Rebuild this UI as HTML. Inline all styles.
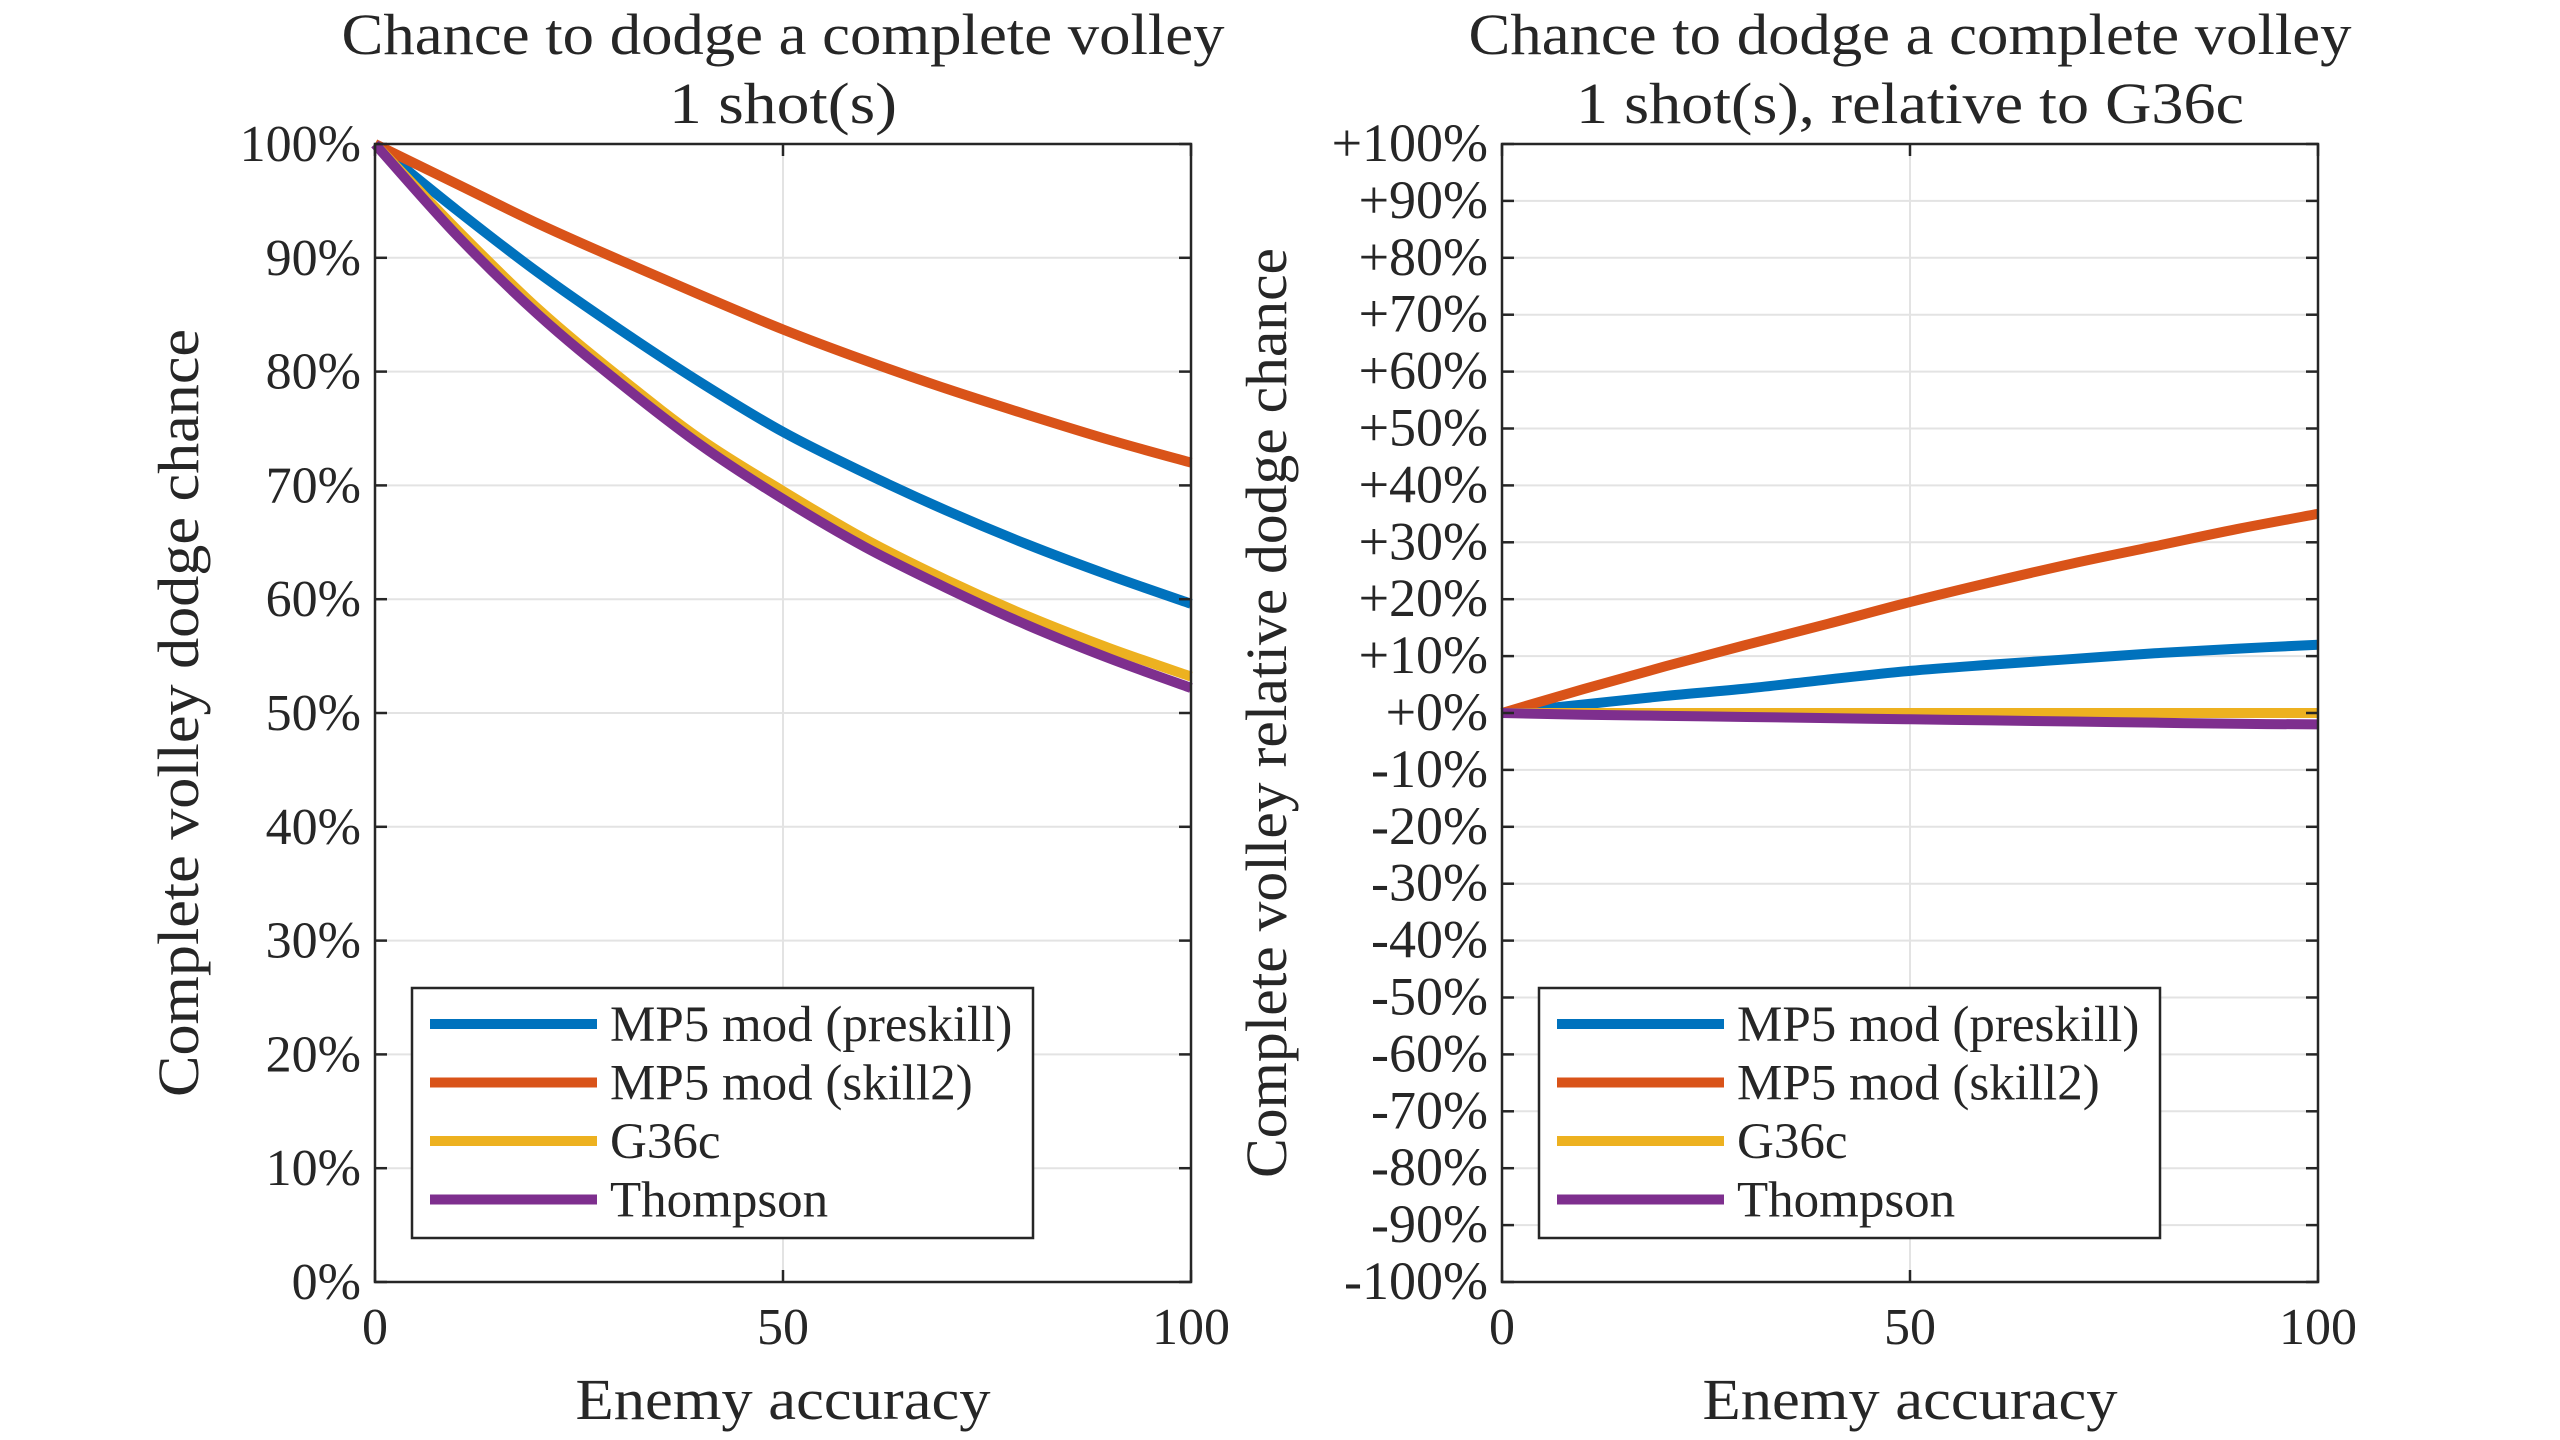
<!DOCTYPE html>
<html><head><meta charset="utf-8"><style>
html,body{margin:0;padding:0;background:#fff}
svg{display:block}
text{font-family:"Liberation Serif",serif;fill:#262626}
</style></head><body>
<svg id="c" width="2560" height="1440" viewBox="0 0 2560 1440"></svg>
<script>
const xs=[0,10,20,30,40,50,60,70,80,90,100];
const seriesNames=["MP5 mod (preskill)","MP5 mod (skill2)","G36c","Thompson"];
const colors=["#0072BD","#D95319","#EDB120","#7E2F8E"];
const absBlue=[100,94.2,88.7,83.7,79,74.7,71.1,67.8,64.8,62.1,59.6];
const absRed=[100,96.5,93,89.8,86.7,83.7,81,78.5,76.2,74,72];
const absYellow=[100,92.5,85.5,79.5,74,69.5,65.3,61.7,58.5,55.7,53.2];
const absPurple=[100,92,85,79,73.5,68.8,64.6,61,57.7,54.8,52.2];
const relBlue=[0,1.5,3,4.3,5.9,7.4,8.5,9.5,10.5,11.3,12];
const relRed=[0,4.2,8.2,12,15.7,19.5,23,26.3,29.3,32.3,35];
const relYellow=[0,0,0,0,0,0,0,0,0,0,0];
const relPurple=[0,-0.3,-0.5,-0.7,-0.9,-1.1,-1.3,-1.5,-1.7,-1.9,-2];
const xTicks=[0,50,100];
const leftYTicks=[0,10,20,30,40,50,60,70,80,90,100];
const rightYTicks=[-100,-90,-80,-70,-60,-50,-40,-30,-20,-10,0,10,20,30,40,50,60,70,80,90,100];

const svg=document.getElementById('c');
const NS='http://www.w3.org/2000/svg';
function el(tag,attrs,parent){const e=document.createElementNS(NS,tag);for(const k in attrs)e.setAttribute(k,attrs[k]);(parent||svg).appendChild(e);return e;}
function smooth(pts){
  let d='M'+pts[0][0]+','+pts[0][1];
  for(let i=0;i<pts.length-1;i++){
    const p0=pts[Math.max(0,i-1)],p1=pts[i],p2=pts[i+1],p3=pts[Math.min(pts.length-1,i+2)];
    const c1x=p1[0]+(p2[0]-p0[0])/6,c1y=p1[1]+(p2[1]-p0[1])/6;
    const c2x=p2[0]-(p3[0]-p1[0])/6,c2y=p2[1]-(p3[1]-p1[1])/6;
    d+=' C'+c1x+','+c1y+' '+c2x+','+c2y+' '+p2[0]+','+p2[1];
  }
  return d;
}

function panel(cfg){
  const g=el('g',{});
  
  
  const L=cfg.x0,R=cfg.x1,T=144,B=1282;
  const sx=v=>L+(v-0)/100*(R-L);
  const sy=v=>B-(v-cfg.ymin)/(cfg.ymax-cfg.ymin)*(B-T);
  cfg.yt.forEach(v=>{const l=el('line',{x1:L,x2:R,y1:sy(v),y2:sy(v),stroke:'#e3e3e3','stroke-width':2},g);
    });
  xTicks.forEach(v=>{const l=el('line',{x1:sx(v),x2:sx(v),y1:T,y2:B,stroke:'#e3e3e3','stroke-width':2},g);
    });
  cfg.data.forEach((arr,i)=>{
    const p=el('path',{d:smooth(arr.map((v,j)=>[sx(xs[j]),sy(v)])),fill:'none',stroke:colors[i],'stroke-width':10,'stroke-linejoin':'round'},g);
    
    
  });
  const bx=el('rect',{x:L,y:T,width:R-L,height:B-T,fill:'none',stroke:'#262626','stroke-width':2.5},g);
  
  cfg.yt.forEach(v=>{
    el('line',{x1:L,x2:L+12,y1:sy(v),y2:sy(v),stroke:'#262626','stroke-width':2.5},g);
    el('line',{x1:R,x2:R-12,y1:sy(v),y2:sy(v),stroke:'#262626','stroke-width':2.5},g);
    const t=el('text',{x:L-14,y:sy(v)+17,'text-anchor':'end','font-size':cfg.tfs},g);
    t.textContent=cfg.fmt(v);
    
  });
  xTicks.forEach(v=>{
    el('line',{x1:sx(v),x2:sx(v),y1:B,y2:B-12,stroke:'#262626','stroke-width':2.5},g);
    el('line',{x1:sx(v),x2:sx(v),y1:T,y2:T+12,stroke:'#262626','stroke-width':2.5},g);
    const t=el('text',{x:sx(v),y:1344,'text-anchor':'middle','font-size':52},g);
    t.textContent=v;
    
  });
  const cx=(L+R)/2;
  const xl=el('text',{x:cx,y:1419,'text-anchor':'middle','font-size':58,textLength:415,lengthAdjust:'spacingAndGlyphs'},g);xl.textContent='Enemy accuracy';
  
  const yl=el('text',{x:cfg.ylx,y:713,'text-anchor':'middle','font-size':58,textLength:cfg.ylen,lengthAdjust:'spacingAndGlyphs',transform:`rotate(-90 ${cfg.ylx} 713)`},g);yl.textContent=cfg.ylabel;
  
  cfg.title.forEach((s,i)=>{const t=el('text',{x:cx,y:54+i*69,'text-anchor':'middle','font-size':58,textLength:cfg.tlen[i],lengthAdjust:'spacingAndGlyphs'},g);t.textContent=s;
    });
  const lg=el('g',{},g);
  const lx=L+37;
  el('rect',{x:lx,y:988,width:621,height:250,fill:'#fff',stroke:'#262626','stroke-width':2.5},lg);
  seriesNames.forEach((n,i)=>{
    const yy=1024+i*58.5;
    const e=el('g',{},lg);
    el('line',{x1:lx+18,x2:lx+185,y1:yy,y2:yy,stroke:colors[i],'stroke-width':10},e);
    const t=el('text',{x:lx+198,y:yy+17,'font-size':51},e);t.textContent=n;
  });
}
panel({name:'left-panel',x0:375,x1:1191,ymin:0,ymax:100,yt:leftYTicks,fmt:v=>v+'%',tfs:52,
  data:[absBlue,absRed,absYellow,absPurple],ylx:198,ylen:768,ylabel:'Complete volley dodge chance',
  tlen:[883,228],title:['Chance to dodge a complete volley','1 shot(s)']});
panel({name:'right-panel',x0:1502,x1:2318,ymin:-100,ymax:100,yt:rightYTicks,fmt:v=>(v>=0?'+':'')+v+'%',tfs:54,
  data:[relBlue,relRed,relYellow,relPurple],ylx:1286,ylen:930,ylabel:'Complete volley relative dodge chance',
  tlen:[883,668],title:['Chance to dodge a complete volley','1 shot(s), relative to G36c']});
</script>
</body></html>
